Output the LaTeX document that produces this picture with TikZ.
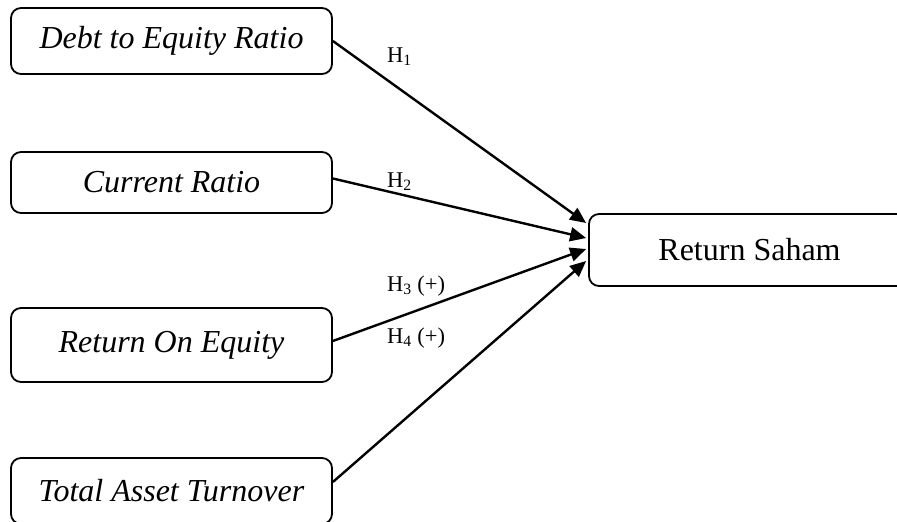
\documentclass[tikz,border=0pt]{standalone}
\usepackage{fontspec}
\setmainfont{Liberation Serif}
\usetikzlibrary{arrows.meta}
\begin{document}
\begin{tikzpicture}[x=1pt,y=-1pt,
  varbox/.style={draw, line width=1.8pt, rounded corners=10pt, minimum width=321pt, inner sep=0pt,
    font=\fontsize{32}{36}\selectfont},
  link/.style={line width=2.4pt, -{Triangle[length=16pt,width=14pt]}},
  hlabel/.style={anchor=base west, inner sep=0pt, font=\fontsize{22.5}{26}\selectfont}]
\useasboundingbox (0,0) rectangle (897,522);
\clip (0,0) rectangle (897,522);
\node[varbox, minimum height=66pt] (b1) at (171.5,41) {\textit{Debt to Equity Ratio}};
\node[varbox, minimum height=61pt] (b2) at (171.5,182.5) {\textit{Current Ratio}};
\node[varbox, minimum height=74pt] (b3) at (171.5,345) {\textit{Return On Equity}};
\node[varbox, minimum height=66pt] (b4) at (171.5,491) {\textit{Total Asset Turnover}};
\node[varbox, minimum height=72pt] (rs) at (749.5,250) {Return Saham};
\coordinate (t1) at ([xshift=-2pt,yshift=27pt]rs.west);
\coordinate (t2) at ([xshift=-2pt,yshift=12pt]rs.west);
\coordinate (t3) at ([xshift=-2pt,yshift=1pt]rs.west);
\coordinate (t4) at ([xshift=-2pt,yshift=-11pt]rs.west);
\draw[link] (b1.east) -- (t1);
\draw[link] ([yshift=4pt]b2.east) -- (t2);
\draw[link] ([yshift=4pt]b3.east) -- (t3);
\draw[link] ([yshift=9pt]b4.east) -- (t4);
\node[hlabel] (h1) at (387,62) {H\textsubscript{1}};
\node[hlabel] (h2) at (387,187) {H\textsubscript{2}};
\node[hlabel] (h3) at (387,291) {H\textsubscript{3} (+)};
\node[hlabel] (h4) at (387,343) {H\textsubscript{4} (+)};
\end{tikzpicture}
\end{document}
